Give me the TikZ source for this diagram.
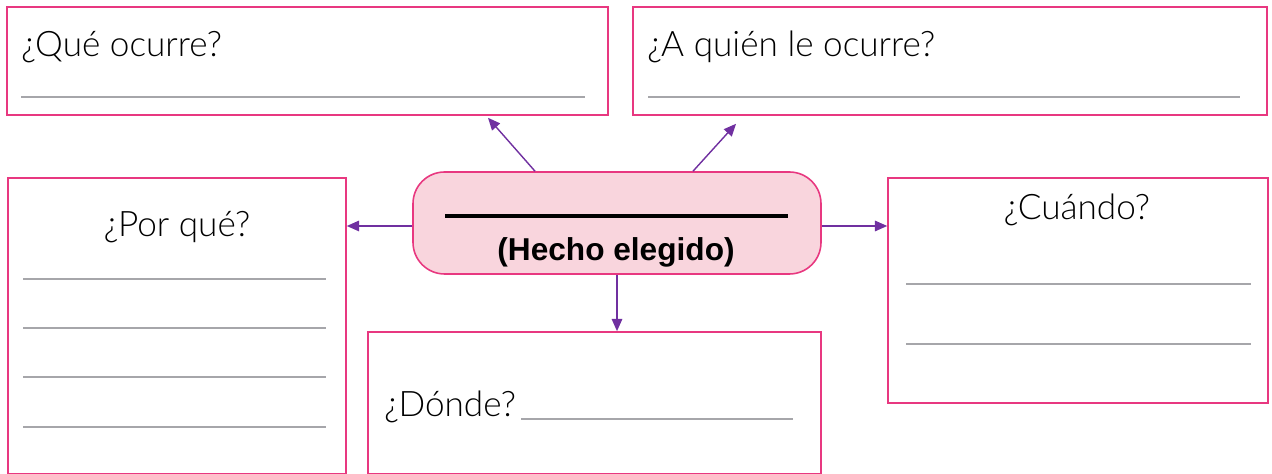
\documentclass[tikz,border=0pt]{standalone}
\usepackage{fontspec}
\setmainfont{Lato}[UprightFont=* Light]
\newfontfamily\arialfont{Liberation Sans}
\usetikzlibrary{arrows.meta,positioning,calc}
\definecolor{clrP}{RGB}{232,56,128}
\definecolor{clrV}{RGB}{112,48,160}
\definecolor{bgP}{RGB}{249,213,221}
\definecolor{clrL}{RGB}{166,166,170}
\tikzset{
  qbox/.style={rectangle,draw=clrP,line width=0.9pt,fill=white,inner sep=0pt},
  hbox/.style={rectangle,rounded corners=18pt,draw=clrP,line width=0.9pt,fill=bgP,
    inner sep=0pt,minimum width=8.16cm,minimum height=2.04cm},
  qtext/.style={font=\fontsize{20}{24}\selectfont,inner sep=0pt},
  blank/.style={draw=clrL,line width=1.1pt},
  arrow/.style={-{Triangle[length=7pt,width=6pt]},line width=0.8pt,color=clrV}
}
\begin{document}
\begin{tikzpicture}[x=1cm,y=1cm]
  \useasboundingbox (0,0) rectangle (25.44,9.48);
  % boxes
  \node[qbox,minimum width=12.02cm,minimum height=2.16cm] (que) at (6.15,8.26) {};
  \node[qbox,minimum width=12.68cm,minimum height=2.16cm] (quien) at (19.00,8.26) {};
  \node[qbox,minimum width=6.76cm,minimum height=5.92cm] (porque) at (3.54,2.96) {};
  \node[qbox,minimum width=9.06cm,minimum height=2.84cm] (donde) at (11.89,1.42) {};
  \node[qbox,minimum width=7.60cm,minimum height=4.50cm] (cuando) at (21.56,3.67) {};
  \node[hbox] (hecho) at (12.34,5.02) {};
  % texts
  \node[qtext,anchor=base west] (tque) at (0.42,8.34) {¿Qué ocurre?};
  \node[qtext,anchor=base west] (tquien) at (12.94,8.34) {¿A quién le ocurre?};
  \node[qtext,anchor=base] (tporque) at (3.54,4.74) {¿Por qué?};
  \node[qtext,anchor=base] (tcuando) at (21.54,5.08) {¿Cuándo?};
  \node[qtext,anchor=base west] (tdonde) at (7.68,1.14) {¿Dónde?};
  \node[font=\arialfont\bfseries\fontsize{18}{21}\selectfont,anchor=base,inner sep=0pt]
    (thecho) at (12.32,4.26) {(Hecho elegido)};
  \draw[black,line width=2.6pt] (8.90,5.16) -- (15.76,5.16);
  % answer lines
  \draw[blank] (0.42,7.54) -- (11.70,7.54);
  \draw[blank] (12.96,7.54) -- (24.80,7.54);
  \foreach \y in {3.90,2.92,1.94,0.94}
    \draw[blank] (0.46,\y) -- (6.52,\y);
  \foreach \y in {3.80,2.60}
    \draw[blank] (18.12,\y) -- (25.02,\y);
  \draw[blank] (10.42,1.10) -- (15.86,1.10);
  % arrows
  \draw[arrow] ([xshift=-1.64cm]hecho.north) -- ($(que.south)+(3.61,-0.04)$);
  \draw[arrow] ([xshift=1.52cm]hecho.north) -- ($(quien.south)+(-4.28,-0.16)$);
  \draw[arrow] ([yshift=-0.06cm]hecho.west) -- ([yshift=-0.06cm]hecho.west -| porque.east);
  \draw[arrow] ([yshift=-0.06cm]hecho.east) -- ([yshift=-0.06cm]hecho.east -| cuando.west);
  \draw[arrow] (hecho.south) -- (hecho.south |- donde.north);
\end{tikzpicture}
\end{document}
